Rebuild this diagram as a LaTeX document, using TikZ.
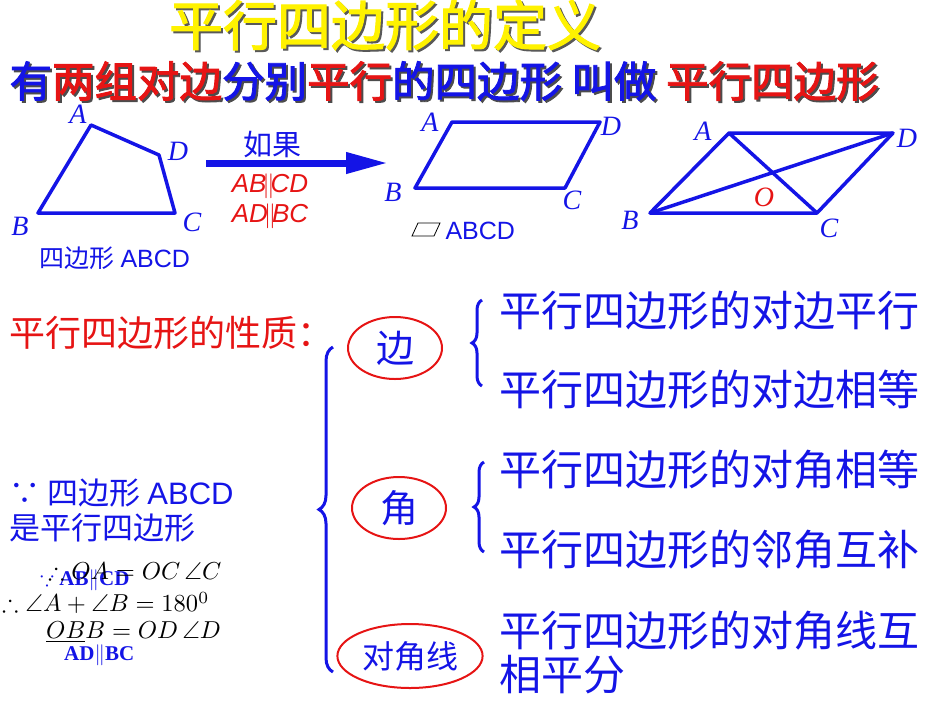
\documentclass[tikz,border=0pt]{standalone}
\usepackage{amssymb}
\usepackage{graphicx}
\usepackage{fontspec}
\setmainfont{Liberation Serif}
\setsansfont{Liberation Sans}
\newfontfamily\cjk{Noto Sans CJK SC}
\newfontfamily\cjkb[FakeBold=2]{Noto Sans CJK SC}
\usetikzlibrary{decorations.pathreplacing,arrows.meta,shapes.geometric}
\definecolor{mblue}{RGB}{20,20,230}
\definecolor{mred}{RGB}{230,20,20}
\newcommand{\myscM}[1]{\scalebox{2.45}{#1}}
\newcommand{\myscB}[1]{\scalebox{2.1}{#1}}
\begin{document}
\begin{tikzpicture}[x=1pt,y=-1pt,
  fig/.style={draw=mblue,line width=3.5pt,line join=round},
  lab/.style={font=\fontsize{28}{28}\selectfont\itshape,text=mblue},
  prop/.style={font=\fontsize{42}{44}\cjk,text=mblue,anchor=west},
  oval/.style={draw=mred,line width=2pt,ellipse},
  br/.style={draw=mblue,line width=3pt,decorate},
  mth/.style={anchor=west,inner sep=0pt}]
\useasboundingbox (0,0) rectangle (950,713);
% title
\node[text=gray!70!black] (t0) at (387,27) {\fontsize{54}{54}\cjkb 平行四边形的定义};
\node[text=yellow] (t) at (385,25) {\fontsize{54}{54}\cjkb 平行四边形的定义};
\node[anchor=west,text=black!70] (d0) at (8,83) {\fontsize{42.5}{43}\cjkb 有两组对边分别平行的四边形 叫做 平行四边形};
\node[anchor=west] (d) at (6,81) {\fontsize{42.5}{43}\cjkb\color{mblue}有\color{mred}两组对边\color{mblue}分别\color{mred}平行\color{mblue}的四边形 叫做 \color{mred}平行四边形};
% quad
\draw[fig] (91,125) coordinate(qa) -- (159,155) coordinate(qd) -- (175,213) coordinate(qc) -- (38,213) coordinate(qb) -- cycle;
\node[lab] (la1) at (78,114) {A};
\node[lab] (ld1) at (178,151) {D};
\node[lab] (lb1) at (20,226) {B};
\node[lab] (lc1) at (192,222) {C};
\node[text=mblue] (q1) at (115,258) {\fontsize{25}{25}\cjk 四边形 \sffamily ABCD};
% arrow
\coordinate (ar1) at (206,163); \coordinate (ar2) at (388,163);
\draw[mblue,line width=7pt,-{Triangle[length=42pt,width=20pt]}] (ar1) -- (ar2);
\node[text=mblue] (rg) at (272,145) {\fontsize{29}{29}\cjk\itshape 如果};
\node[text=mred] (p1) at (270,186) {\fontsize{26}{26}\sffamily\itshape AB$\!\|\!$CD};
\node[text=mred] (p2) at (270,216) {\fontsize{26}{26}\sffamily\itshape AD$\!\|\!$BC};
% parallelogram
\draw[fig] (452,122) -- (600,122) -- (565,188) -- (415,188) -- cycle;
\node[lab] (la2) at (430,122) {A};
\node[lab] (ld2) at (611,126) {D};
\node[lab] (lb2) at (393,192) {B};
\node[lab] (lc2) at (572,200) {C};
\draw[black,line width=0.8pt] (412,236) -- (418,223) -- (440,223) -- (434,236) -- cycle;
\node[text=mblue,anchor=west] (pa) at (442,231) {\fontsize{25}{25}\sffamily ABCD};
% third
\draw[fig] (729,133) coordinate(ta) -- (893,133) coordinate(td) -- (817,213) coordinate(tc) -- (650,213) coordinate(tb) -- cycle;
\draw[fig] (ta) -- (tc); \draw[fig] (tb) -- (td);
\node[lab] (la3) at (703,131) {A};
\node[lab] (ld3) at (907,138) {D};
\node[lab] (lb3) at (630,220) {B};
\node[lab] (lc3) at (829,228) {C};
\node[lab,text=mred] (lo) at (764,197) {O};
% properties
\node[text=mred,anchor=west] (xz) at (6,333) {\fontsize{36}{36}\cjk 平行四边形的性质：};
\node[oval,minimum width=94pt,minimum height=62pt] (e1) at (395,348) {\fontsize{38}{38}\cjk\color{mblue}边};
\node[oval,minimum width=94pt,minimum height=62pt] (e2) at (399,508) {\fontsize{38}{38}\cjk\color{mblue}角};
\node[oval,minimum width=122pt,minimum height=64pt] (e3) at (410,656) {\fontsize{32}{32}\cjk\color{mblue}对角线};
\draw[br,decoration={brace,amplitude=14pt}] (333,672) -- (333,347);
\draw[br,decoration={brace,amplitude=10pt}] (482,386) -- (482,300);
\draw[br,decoration={brace,amplitude=10pt}] (484,552) -- (484,462);
\node[prop] (r1) at (496,311) {平行四边形的对边平行};
\node[prop] (r2) at (496,390) {平行四边形的对边相等};
\node[prop] (r3) at (496,470) {平行四边形的对角相等};
\node[prop] (r4) at (496,550) {平行四边形的邻角互补};
\node[prop,align=left,anchor=north west] (r5) at (496,608) {平行四边形的对角线互\\相平分};
% left
\node[text=mblue,anchor=west] (s1) at (6,493) {\fontsize{31}{31}\cjk ∵ 四边形 \sffamily ABCD};
\node[text=mblue,anchor=west] (s2) at (6,528) {\fontsize{31}{31}\cjk 是平行四边形};
\node[text=mblue,mth] (s3) at (40,580) {\myscB{\bfseries$\because$ AB$\|$CD}};
\node[text=mblue,mth] (s4) at (64,655) {\myscB{\bfseries AD$\|$BC}};
\node[mth] (m1) at (48,571) {\myscM{$\therefore OA=OC\,\angle C$}};
\node[mth] (m2) at (2,603) {\myscM{$\therefore\angle A+\angle B=180^0$}};
\node[mth] (m3) at (46,632) {\myscM{$\underline{OB}B=OD\,\angle D$}};
\end{tikzpicture}
\end{document}
